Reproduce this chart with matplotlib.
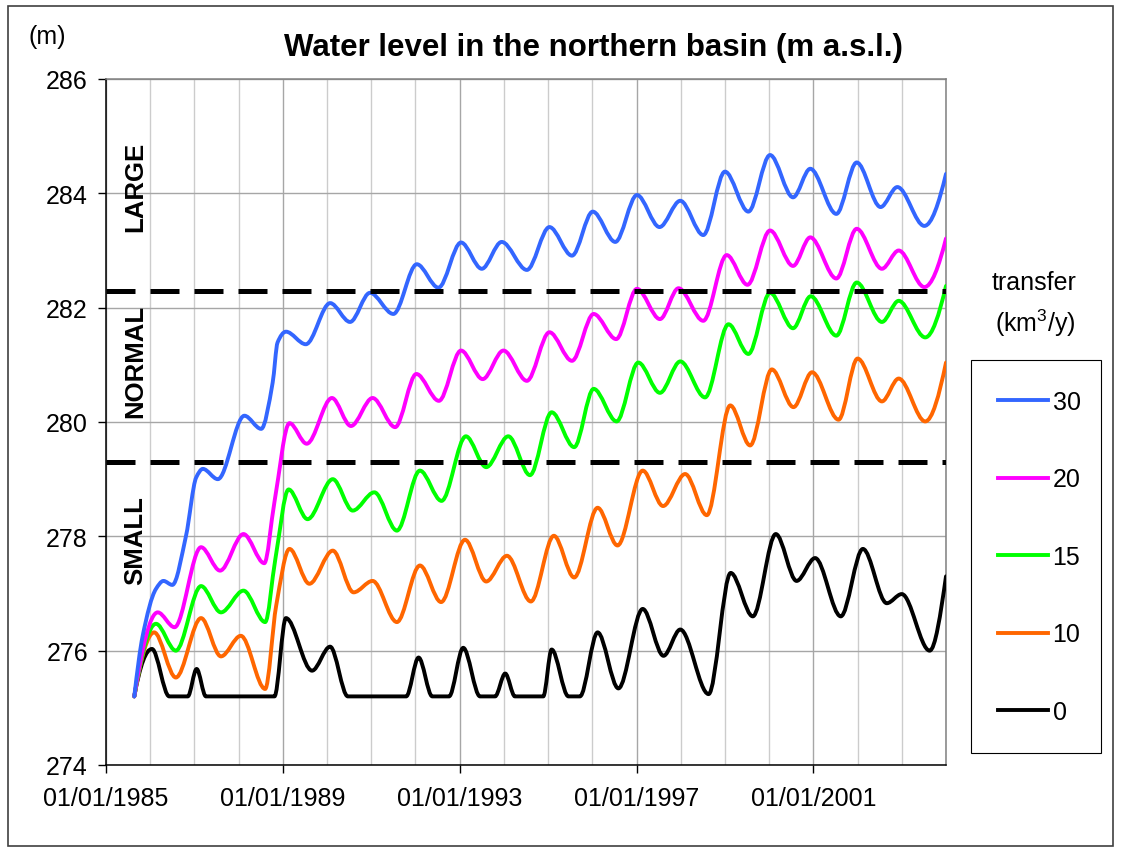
import numpy as np
import matplotlib
matplotlib.use("Agg")
import matplotlib.pyplot as plt
from matplotlib.path import Path
from matplotlib.patches import PathPatch, Rectangle
from matplotlib.lines import Line2D

plt.rcParams['font.family'] = ['Liberation Sans', 'DejaVu Sans']
plt.rcParams['mathtext.default'] = 'regular'

# --- DATA (decimal years, water level m a.s.l.) ---
t_30 = [1985.64, 1985.83, 1986.13, 1986.30, 1986.50, 1986.81, 1987.04, 1987.19, 1987.53, 1988.13,
        1988.51, 1988.77, 1988.88, 1989.07, 1989.52, 1990.07, 1990.52, 1990.97, 1991.50, 1992.03,
        1992.52, 1993.03, 1993.50, 1993.95, 1994.52, 1995.03, 1995.54, 1996.01, 1996.52, 1997.01,
        1997.52, 1997.99, 1998.51, 1999.00, 1999.53, 2000.02, 2000.54, 2000.93, 2001.52, 2001.98,
        2002.52, 2002.90, 2003.51, 2004.00]
lvl_30 = [275.20, 276.26, 277.08, 277.22, 277.15, 278.01, 279.03, 279.18, 279.00, 280.11,
          279.88, 280.69, 281.39, 281.58, 281.36, 282.08, 281.75, 282.26, 281.89, 282.76,
          282.35, 283.14, 282.68, 283.15, 282.66, 283.41, 282.91, 283.68, 283.15, 283.97,
          283.41, 283.87, 283.27, 284.38, 283.68, 284.67, 283.93, 284.43, 283.64, 284.54,
          283.76, 284.11, 283.43, 284.34]

t_20 = [1985.64, 1986.17, 1986.55, 1987.15, 1987.58, 1988.11, 1988.58, 1988.81, 1989.15, 1989.54,
        1990.11, 1990.54, 1991.03, 1991.54, 1992.02, 1992.53, 1993.03, 1993.52, 1993.99, 1994.52,
        1995.03, 1995.54, 1996.03, 1996.54, 1997.01, 1997.53, 1997.95, 1998.51, 1999.04, 1999.51,
        2000.02, 2000.54, 2000.93, 2001.52, 2001.98, 2002.55, 2002.93, 2003.51, 2004.00]
lvl_20 = [275.20, 276.67, 276.41, 277.81, 277.40, 278.04, 277.53, 278.60, 279.98, 279.62,
          280.42, 279.93, 280.42, 279.91, 280.84, 280.37, 281.25, 280.75, 281.25, 280.72,
          281.57, 281.07, 281.89, 281.45, 282.33, 281.80, 282.34, 281.77, 282.92, 282.40,
          283.35, 282.73, 283.23, 282.51, 283.38, 282.68, 283.00, 282.36, 283.21]

t_15 = [1985.64, 1986.13, 1986.58, 1987.15, 1987.60, 1988.11, 1988.60, 1988.83, 1989.13, 1989.56,
        1990.13, 1990.58, 1991.07, 1991.58, 1992.10, 1992.59, 1993.14, 1993.60, 1994.10, 1994.59,
        1995.08, 1995.59, 1996.03, 1996.55, 1997.04, 1997.53, 1997.99, 1998.55, 1999.08, 1999.53,
        2000.02, 2000.54, 2000.94, 2001.52, 2001.98, 2002.55, 2002.93, 2003.53, 2004.00]
lvl_15 = [275.20, 276.47, 276.00, 277.13, 276.67, 277.05, 276.50, 277.60, 278.82, 278.30,
          279.00, 278.45, 278.77, 278.10, 279.15, 278.62, 279.75, 279.21, 279.75, 279.07,
          280.17, 279.56, 280.58, 280.01, 281.04, 280.51, 281.06, 280.43, 281.71, 281.19,
          282.26, 281.64, 282.20, 281.51, 282.44, 281.75, 282.12, 281.48, 282.38]

t_10 = [1985.64, 1986.09, 1986.58, 1987.15, 1987.60, 1988.05, 1988.60, 1988.85, 1989.15, 1989.60,
        1990.13, 1990.60, 1991.03, 1991.58, 1992.10, 1992.58, 1993.12, 1993.60, 1994.07, 1994.61,
        1995.13, 1995.59, 1996.12, 1996.57, 1997.14, 1997.60, 1998.10, 1998.59, 1999.12, 1999.57,
        2000.06, 2000.55, 2000.97, 2001.57, 2002.00, 2002.55, 2002.93, 2003.53, 2004.00]
lvl_10 = [275.20, 276.32, 275.53, 276.57, 275.90, 276.26, 275.33, 276.79, 277.78, 277.17,
          277.75, 277.02, 277.22, 276.50, 277.49, 276.85, 277.94, 277.21, 277.66, 276.86,
          278.01, 277.28, 278.50, 277.84, 279.15, 278.53, 279.09, 278.37, 280.29, 279.59,
          280.92, 280.26, 280.87, 280.04, 281.11, 280.36, 280.76, 280.01, 281.04]

t_0 = [1985.64, 1986.04, 1986.43, 1986.85, 1987.05, 1987.26, 1988.81, 1989.07, 1989.66, 1990.07,
       1990.47, 1991.79, 1992.07, 1992.38, 1992.76, 1993.08, 1993.46, 1993.80, 1994.03, 1994.25,
       1994.89, 1995.08, 1995.46, 1995.72, 1996.12, 1996.59, 1997.14, 1997.61, 1997.99, 1998.63,
       1999.13, 1999.63, 2000.15, 2000.62, 2001.04, 2001.62, 2002.12, 2002.66, 2003.00, 2003.63,
       2004.00]
lvl_0 = [275.20, 276.03, 275.20, 275.20, 275.68, 275.20, 275.20, 276.57, 275.65, 276.07,
         275.20, 275.20, 275.88, 275.20, 275.20, 276.05, 275.20, 275.20, 275.60, 275.20,
         275.20, 276.02, 275.20, 275.20, 276.32, 275.34, 276.73, 275.91, 276.37, 275.24,
         277.36, 276.60, 278.04, 277.22, 277.62, 276.60, 277.78, 276.83, 276.99, 276.00,
         277.30]

transfer_labels = ['30', '20', '15', '10', '0']
colors = ['#3366FF', '#FF00FF', '#00FF00', '#FF6600', '#000000']
series = [(t_30, lvl_30), (t_20, lvl_20), (t_15, lvl_15), (t_10, lvl_10), (t_0, lvl_0)]

thresholds = [282.3, 279.3]
zones = ['LARGE', 'NORMAL', 'SMALL']
zone_y = [284.13, 281.07, 277.94]


def end_slope(h0, h1, d0, d1):
    # one-sided shape-preserving slope at the curve ends
    m = ((2 * h0 + h1) * d0 - h0 * d1) / (h0 + h1)
    if np.sign(m) != np.sign(d0):
        return 0.0
    if np.sign(d0) != np.sign(d1) and abs(m) > abs(3 * d0):
        return 3 * d0
    return m


def smooth_line(ax, t, v, **kw):
    # draw the read points as a smooth (Excel-like) line with cubic Bezier segments
    t = np.asarray(t, float)
    v = np.asarray(v, float)
    h = np.diff(t)
    d = np.diff(v) / h
    m = np.zeros_like(v)
    for k in range(1, len(v) - 1):
        if d[k - 1] * d[k] > 0:
            w1 = 2 * h[k] + h[k - 1]
            w2 = h[k] + 2 * h[k - 1]
            m[k] = (w1 + w2) / (w1 / d[k - 1] + w2 / d[k])
    m[0] = end_slope(h[0], h[1], d[0], d[1])
    m[-1] = end_slope(h[-1], h[-2], d[-1], d[-2])
    verts = [(t[0], v[0])]
    codes = [Path.MOVETO]
    for k in range(len(h)):
        verts += [(t[k] + h[k] / 3, v[k] + m[k] * h[k] / 3),
                  (t[k + 1] - h[k] / 3, v[k + 1] - m[k + 1] * h[k] / 3),
                  (t[k + 1], v[k + 1])]
        codes += [Path.CURVE4] * 3
    ax.add_patch(PathPatch(Path(verts, codes), fill=False, joinstyle='round',
                           capstyle='round', **kw))


fig = plt.figure(figsize=(11.21, 8.54), dpi=100)
ax = fig.add_axes([106 / 1121, 88 / 854, 840 / 1121, 686 / 854])

for (t, v), c in zip(series[::-1], colors[::-1]):
    smooth_line(ax, t, v, edgecolor=c, linewidth=2.8, zorder=3)

for y in thresholds:
    ax.axhline(y, color='black', lw=3.6, ls=(0, (5.8, 3.0)), zorder=4)

ax.set_xlim(1985, 2004)
ax.set_ylim(274, 286)
ax.set_xticks(range(1985, 2004, 4))
ax.set_xticklabels(['01/01/%d' % y for y in range(1985, 2004, 4)])
ax.set_xticks(range(1985, 2005), minor=True)
ax.set_yticks(range(274, 287, 2))

ax.set_axisbelow(True)
ax.grid(which='minor', axis='x', color='#cccccc', lw=1.0)
ax.grid(which='major', axis='x', color='#a6a6a6', lw=1.0)
ax.grid(which='major', axis='y', color='#a6a6a6', lw=1.0)

ax.tick_params(axis='both', which='major', direction='out', length=6, width=1.0,
               labelsize=18, colors='black')
ax.tick_params(axis='y', pad=7)
ax.tick_params(axis='x', pad=9)
ax.tick_params(axis='x', which='minor', length=0)

ax.spines['left'].set_color('black')
ax.spines['bottom'].set_color('black')
ax.spines['top'].set_color('#808080')
ax.spines['right'].set_color('#808080')
for s in ax.spines.values():
    s.set_linewidth(1.1)

for name, yv in zip(zones, zone_y):
    ax.text(0.035, yv, name, transform=ax.get_yaxis_transform(), rotation=90,
            ha='center', va='center', fontsize=18.5, fontweight='bold')

fig.text(593 / 1121, 1 - 48 / 854, 'Water level in the northern basin (m a.s.l.)',
         ha='center', va='center', fontsize=22.5, fontweight='bold')
fig.text(47 / 1121, 1 - 37 / 854, '(m)', ha='center', va='center', fontsize=18)

# legend (own box drawn below) with title text above it
handles = [Line2D([], [], color=c, lw=2.8) for c in colors]
leg = fig.legend(handles, transfer_labels, loc='center',
                 bbox_to_anchor=(1039 / 1121, 1 - 558 / 854), bbox_transform=fig.transFigure,
                 fontsize=18, frameon=False, labelspacing=2.14, handlelength=2.0,
                 handletextpad=0.2, borderpad=0, borderaxespad=0)
fig.add_artist(Rectangle((971 / 1121, 1 - 754 / 854), 130 / 1121, 393 / 854,
                         transform=fig.transFigure, fill=False, edgecolor='black', lw=0.8))
fig.text(1034 / 1121, 1 - 283 / 854, 'transfer', ha='center', va='center', fontsize=18)
fig.text(1035 / 1121, 1 - 323 / 854, '(km$^3$/y)', ha='center', va='center', fontsize=18)

# chart border
fig.add_artist(Rectangle((8 / 1121, 1 - 847 / 854), 1105 / 1121, 840 / 854,
                         transform=fig.transFigure, fill=False, edgecolor='#404040', lw=1.2))

fig.savefig('out.png', dpi=100)
